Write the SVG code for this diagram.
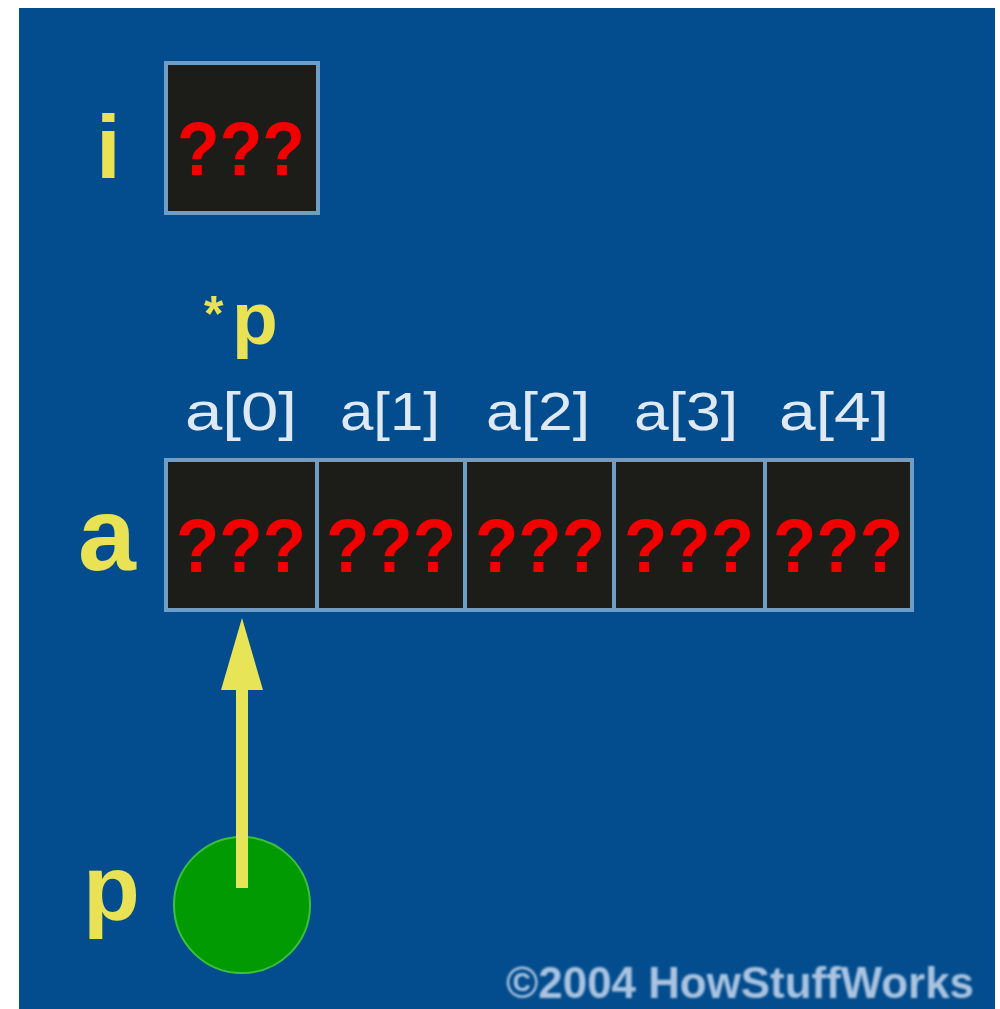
<svg xmlns="http://www.w3.org/2000/svg" width="1000" height="1009" viewBox="0 0 1000 1009">
  <defs>
    <style>
      .cell { fill: #1c1c18; stroke: #6e9dc6; stroke-width: 4; }
      .div { stroke: #6e9dc6; stroke-width: 4; }
      .val { font-family: "Liberation Sans", Arial, sans-serif; font-weight: bold; font-size: 76px; fill: #f20000; }
      .name { font-family: "Liberation Sans", Arial, sans-serif; font-weight: bold; fill: #e8e254; }
      .idx { font-family: "Liberation Sans", Arial, sans-serif; font-size: 54px; fill: #dfe9f4; }
      .copy { font-family: "Liberation Sans", Arial, sans-serif; font-weight: bold; font-size: 44px; fill: #a9c3e0; }
      .ptr { stroke: #e8e458; stroke-width: 12; fill: none; }
    </style>
    <marker id="head" viewBox="0 0 72 42" refX="0" refY="21" markerWidth="72" markerHeight="42" markerUnits="userSpaceOnUse" orient="auto">
      <path d="M0,0 L72,21 L0,42 Z" fill="#e8e458"/>
    </marker>
    <filter id="soft" x="-5%" y="-20%" width="110%" height="140%">
      <feGaussianBlur stdDeviation="1.2"/>
    </filter>
  </defs>

  <!-- white page with blue panel -->
  <rect x="0" y="0" width="1000" height="1009" fill="#ffffff"/>
  <rect x="19" y="8" width="976" height="1001" fill="#034d8e"/>

  <!-- variable i -->
  <g id="var-i">
    <text class="name" x="96" y="178" font-size="89">i</text>
    <rect class="cell" x="166" y="63" width="152" height="150"/>
    <text class="val" x="241" y="175" text-anchor="middle" textLength="128" lengthAdjust="spacingAndGlyphs">???</text>
  </g>

  <!-- *p label above a[0] -->
  <g id="deref-p">
    <text class="name"><tspan x="204" y="331" font-size="50">*</tspan><tspan x="232" y="344" font-size="75">p</tspan></text>
  </g>

  <!-- array a -->
  <g id="array-a">
    <text class="name" x="78" y="570" font-size="104">a</text>
    <rect class="cell" x="166" y="460" width="746" height="150"/>
    <line class="div" x1="317" y1="460" x2="317" y2="610"/>
    <line class="div" x1="465" y1="460" x2="465" y2="610"/>
    <line class="div" x1="614" y1="460" x2="614" y2="610"/>
    <line class="div" x1="765" y1="460" x2="765" y2="610"/>

    <text class="idx" x="241" y="430" text-anchor="middle" textLength="112" lengthAdjust="spacingAndGlyphs">a[0]</text>
    <text class="idx" x="390" y="430" text-anchor="middle" textLength="100" lengthAdjust="spacingAndGlyphs">a[1]</text>
    <text class="idx" x="538" y="430" text-anchor="middle" textLength="104" lengthAdjust="spacingAndGlyphs">a[2]</text>
    <text class="idx" x="686" y="430" text-anchor="middle" textLength="104" lengthAdjust="spacingAndGlyphs">a[3]</text>
    <text class="idx" x="834" y="430" text-anchor="middle" textLength="110" lengthAdjust="spacingAndGlyphs">a[4]</text>

    <text class="val" x="241" y="572" text-anchor="middle" textLength="130" lengthAdjust="spacingAndGlyphs">???</text>
    <text class="val" x="391" y="572" text-anchor="middle" textLength="130" lengthAdjust="spacingAndGlyphs">???</text>
    <text class="val" x="540" y="572" text-anchor="middle" textLength="130" lengthAdjust="spacingAndGlyphs">???</text>
    <text class="val" x="689" y="572" text-anchor="middle" textLength="130" lengthAdjust="spacingAndGlyphs">???</text>
    <text class="val" x="838" y="572" text-anchor="middle" textLength="130" lengthAdjust="spacingAndGlyphs">???</text>
  </g>

  <!-- pointer p -->
  <g id="ptr-p">
    <text class="name" x="83" y="920" font-size="93">p</text>
    <circle cx="242" cy="905" r="68" fill="#029a02" stroke="#3cc03c" stroke-width="2"/>
  </g>

  <!-- connectors -->
  <g id="connectors">
    <line class="ptr" x1="242" y1="888" x2="242" y2="690" marker-end="url(#head)"/>
  </g>

  <!-- credit line -->
  <text class="copy" x="506" y="998" textLength="468" lengthAdjust="spacingAndGlyphs" filter="url(#soft)">©2004 HowStuffWorks</text>
</svg>
